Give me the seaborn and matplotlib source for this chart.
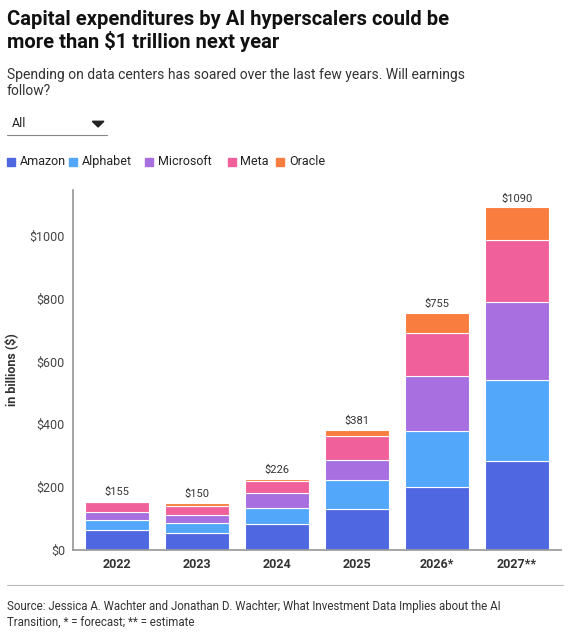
import matplotlib
matplotlib.use("Agg")
import matplotlib.pyplot as plt
import seaborn as sns
import numpy as np
import pandas as pd
from matplotlib.patches import Rectangle, Polygon

years = ["2022", "2023", "2024", "2025", "2026*", "2027**"]
amazon = [63, 53, 83, 131, 200, 283]
alphabet = [32, 32, 51, 92, 179, 258]
microsoft = [25, 27, 48, 64, 175, 249]
meta = [31, 29, 38, 76, 137, 197]
oracle = [4, 9, 6, 18, 64, 103]
totals = ["$155", "$150", "$226", "$381", "$755", "$1090"]
series_names = ["Amazon", "Alphabet", "Microsoft", "Meta", "Oracle"]
colors = ["#4F67E0", "#52A7FA", "#A76FE0", "#F0609A", "#F97D3F"]

sns.set_theme(style="white")
plt.rcParams['font.family'] = ['Roboto', 'DejaVu Sans']

fig = plt.figure(figsize=(5.77, 6.35), dpi=100)
ax = fig.add_axes([0.127, 0.134, 0.845, 0.567])

df = pd.DataFrame({"year": years})
bottom = np.zeros(len(years))
for name, vals, c in zip(series_names, [amazon, alphabet, microsoft, meta, oracle], colors):
    df["v"] = vals
    sns.barplot(data=df, x="year", y="v", color=c, bottom=bottom, width=0.8,
                edgecolor="white", linewidth=0.8, ax=ax, saturation=1)
    bottom = bottom + np.array(vals)

for i, (t, b) in enumerate(zip(totals, bottom)):
    ax.text(i, b + 12, t, ha="center", va="bottom", fontsize=8, color="#333")

ax.set_ylim(0, 1146)
ax.set_xlim(-0.55, 5.55)
ax.set_yticks([0, 200, 400, 600, 800, 1000])
ax.set_yticklabels(["$0", "$200", "$400", "$600", "$800", "$1000"], fontsize=9, color="#444")
ax.tick_params(axis="x", labelsize=9, length=0, pad=6)
for lab in ax.get_xticklabels():
    lab.set_fontweight("bold"); lab.set_color("#333")
ax.tick_params(axis="y", length=0, pad=6)
ax.set_xlabel("")
ax.set_ylabel("in billions ($)", fontsize=9, fontweight="bold", color="#333", labelpad=8)
for s in ["top", "right"]:
    ax.spines[s].set_visible(False)
ax.spines["left"].set_color("#999")
ax.spines["bottom"].set_color("#999")

fig.text(0.012, 0.985, "Capital expenditures by AI hyperscalers could be\nmore than $1 trillion next year",
         fontsize=14.5, fontweight="bold", va="top", ha="left", color="#111", linespacing=1.15)
fig.text(0.012, 0.893, "Spending on data centers has soared over the last few years. Will earnings\nfollow?",
         fontsize=10, va="top", ha="left", color="#333", linespacing=1.2)
fig.text(0.02, 0.805, "All", fontsize=9, va="center", color="#222")
fig.add_artist(plt.Line2D([0.012, 0.185], [0.787, 0.787], color="#888", lw=0.8))
fig.add_artist(Polygon([[0.160, 0.809], [0.180, 0.809], [0.170, 0.800]], closed=True, color="#222"))

lx = 0.012
for name, c in zip(series_names, colors):
    fig.add_artist(Rectangle((lx, 0.738), 0.014, 0.013, color=c, transform=fig.transFigure))
    fig.text(lx + 0.022, 0.745, name, fontsize=9, va="center", color="#222")
    lx += 0.022 + len(name) * 0.0118 + 0.015

fig.add_artist(plt.Line2D([0.012, 0.976], [0.078, 0.078], color="#bbb", lw=0.8))
fig.text(0.012, 0.055, "Source: Jessica A. Wachter and Jonathan D. Wachter; What Investment Data Implies about the AI\nTransition, * = forecast; ** = estimate",
         fontsize=8.3, va="top", ha="left", color="#333", linespacing=1.35)

fig.savefig("out.png", dpi=100)
